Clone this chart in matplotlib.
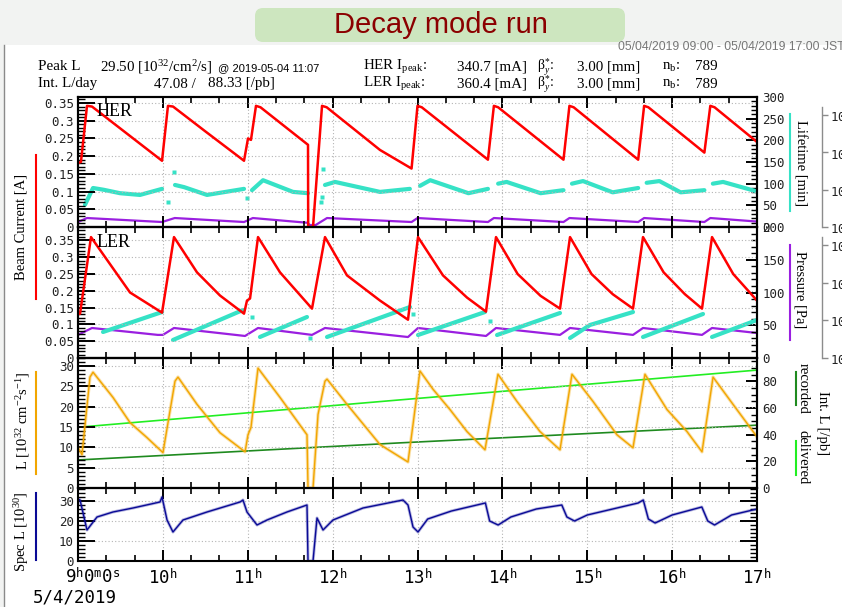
import matplotlib
matplotlib.use("Agg")
import matplotlib.pyplot as plt
import matplotlib.ticker as mticker
import matplotlib.transforms as mtransforms
from matplotlib.patches import FancyBboxPatch, Rectangle
from matplotlib.lines import Line2D

plt.rcParams["font.family"] = ["DejaVu Sans Mono"]
plt.rcParams["mathtext.fontset"] = "custom"
plt.rcParams["mathtext.rm"] = "Liberation Serif"
plt.rcParams["mathtext.it"] = "Liberation Serif:italic"
plt.rcParams["mathtext.tt"] = "DejaVu Sans Mono"
plt.rcParams["axes.linewidth"] = 1.5

SERIF = "Liberation Serif"
nan = float("nan")

# ---- time axis -------------------------------------------------------------
hour_ticks = [9, 10, 11, 12, 13, 14, 15, 16, 17]
hour_labels = [""] + [r"$\mathtt{%d}^{\mathtt{h}}$" % h for h in hour_ticks[1:]]

# ---- HER panel: beam current [A], lifetime [min], pressure [Pa] ------------
her_t = [9.0, 9.035, 9.106, 9.165, 9.58, 9.99, 10.06, 10.12, 10.5, 10.956,
         11.003, 11.038, 11.097, 11.15, 11.71, 11.712, 11.769, 11.875, 11.93,
         12.558, 12.93, 13.0, 13.05, 13.83, 13.9, 13.95, 14.72, 14.79, 14.84,
         15.6, 15.67, 15.72, 16.38, 16.45, 16.5, 17.0]
her_current = [0.180, 0.184, 0.342, 0.340, 0.263, 0.187, 0.342, 0.340, 0.270, 0.187,
               0.250, 0.246, 0.342, 0.338, 0.232, 0.0, 0.0, 0.342, 0.338,
               0.2175, 0.165, 0.342, 0.338, 0.190, 0.342, 0.338, 0.190, 0.342, 0.338,
               0.190, 0.342, 0.338, 0.210, 0.342, 0.338, 0.240]

her_life_t = [9.082, 9.177, 9.30, 9.495, 9.73, 9.99, nan,
              10.143, 10.25, 10.52, 10.956, nan,
              11.05, 11.18, 11.533, 11.71, nan,
              11.91, 12.028, 12.558, 12.91, nan,
              13.03, 13.15, 13.6, 13.83, nan,
              13.95, 14.05, 14.45, 14.72, nan,
              14.82, 14.95, 15.3, 15.6, nan,
              15.7, 15.85, 16.1, 16.38, nan,
              16.48, 16.6, 17.0]
her_life_min = [51, 90, 86, 78, 74, 88, nan,
                97, 92, 74, 88, nan,
                85, 108, 81, 78, nan,
                97, 104, 81, 88, nan,
                95, 108, 78, 88, nan,
                100, 104, 78, 85, nan,
                100, 106, 80, 90, nan,
                102, 106, 80, 85, nan,
                100, 104, 82]
her_life_pts_t = [10.06, 10.131, 10.99, 11.86, 11.87, 11.887]
her_life_pts_min = [58, 127, 67, 58, 69, 134]

her_press_t = [9.0, 9.106, 9.99, 10.14, 10.956, 11.06, 11.70, 11.733, 11.80,
               11.934, 12.93, 13.0, 13.83, 13.9, 14.72, 14.79, 15.6, 15.67,
               16.38, 16.45, 17.0]
her_press_pa = [1.36e-8, 1.74e-8, 1.36e-8, 1.74e-8, 1.36e-8, 1.74e-8, 1.3e-8, 1.13e-8, 1.13e-8,
                1.74e-8, 1.36e-8, 1.74e-8, 1.36e-8, 1.74e-8, 1.36e-8, 1.74e-8, 1.36e-8, 1.74e-8,
                1.36e-8, 1.74e-8, 1.4e-8]

# ---- LER panel --------------------------------------------------------------
ler_t = [9.0, 9.024, 9.153, 9.412, 9.613, 9.99, 10.131, 10.402, 10.673, 10.956,
         10.991, 11.027, 11.121, 11.38, 11.757, 11.91, 12.169, 12.558, 12.888,
         13.006, 13.3, 13.583, 13.807, 13.925, 14.18, 14.45, 14.679, 14.797,
         15.05, 15.3, 15.539, 15.657, 15.9, 16.15, 16.352, 16.47, 16.72, 17.0]
ler_current = [0.130, 0.132, 0.360, 0.267, 0.195, 0.135, 0.360, 0.255, 0.186, 0.132,
               0.171, 0.177, 0.360, 0.255, 0.147, 0.360, 0.246, 0.171, 0.114,
               0.360, 0.246, 0.180, 0.138, 0.360, 0.250, 0.185, 0.147, 0.360,
               0.250, 0.190, 0.147, 0.360, 0.255, 0.190, 0.147, 0.360, 0.250, 0.171]

ler_life_t = [9.295, 9.99, nan, 10.119, 10.944, nan, 11.144, 11.698, nan,
              11.934, 12.912, nan, 13.006, 13.795, nan, 13.937, 14.679, nan,
              14.797, 15.032, 15.539, nan, 15.657, 16.364, nan, 16.47, 17.0]
ler_life_min = [39.7, 70.2, nan, 27.5, 73.3, nan, 32.1, 62.6, nan,
                32.1, 77.9, nan, 35.1, 70.2, nan, 35.1, 68.7, nan,
                30.5, 50.4, 70.2, nan, 32.1, 67.2, nan, 32.1, 58.0]
ler_life_pts_t = [11.05, 11.733, 12.947, 13.854]
ler_life_pts_min = [62.6, 30.5, 67.2, 56.5]

ler_press_t = [9.0, 9.165, 9.94, 10.0, 10.131, 10.968, 11.121, 11.757, 11.91,
               12.888, 13.006, 13.807, 13.925, 14.679, 14.797, 15.539, 15.657,
               16.352, 16.47, 17.0]
ler_press_pa = [4.1e-8, 6.25e-8, 4.1e-8, 4.1e-8, 6.25e-8, 3.84e-8, 6.25e-8, 4.1e-8, 6.25e-8,
                3.6e-8, 6.25e-8, 3.84e-8, 6.25e-8, 4.1e-8, 6.25e-8, 4.1e-8, 6.25e-8,
                4.1e-8, 6.25e-8, 4.6e-8]

# ---- luminosity panel --------------------------------------------------------
lum_t = [9.0, 9.047, 9.141, 9.177, 9.412, 9.613, 9.813, 10.001, 10.143, 10.178,
         10.402, 10.673, 10.968, 11.003, 11.038, 11.121, 11.38, 11.698, 11.71,
         11.769, 11.828, 11.91, 11.934, 12.169, 12.558, 12.888, 12.947, 13.029,
         13.183, 13.383, 13.583, 13.795, 13.948, 14.172, 14.443, 14.679, 14.82,
         15.068, 15.35, 15.539, 15.68, 15.94, 16.175, 16.352, 16.482, 16.717, 17.0]
lum_value = [10.0, 8.2, 27.3, 28.5, 22.3, 16.1, 12.4, 8.7, 26.3, 27.3,
             20.6, 13.6, 8.9, 13.1, 14.9, 29.5, 22.3, 13.1, 0.0,
             0.0, 18.1, 26.3, 26.8, 20.6, 10.7, 6.4, 15.6, 28.8,
             24.3, 19.3, 13.9, 9.4, 28.0, 21.3, 13.9, 9.4, 28.0,
             21.3, 13.1, 9.9, 28.0, 19.3, 13.9, 8.9, 27.3, 20.6, 12.6]

intl_t = [9.0, 12.79, 17.0]
intl_delivered = [45.5, 66.0, 88.33]
intl_recorded = [21.0, 33.8, 47.08]

# ---- specific luminosity panel ---------------------------------------------
spec_t = [9.0, 9.024, 9.106, 9.224, 9.412, 9.648, 9.966, 9.99, 10.049, 10.119,
          10.237, 10.52, 10.909, 10.944, 10.991, 11.109, 11.227, 11.462, 11.698,
          11.71, 11.769, 11.816, 11.887, 12.004, 12.358, 12.829, 12.888, 12.947,
          13.006, 13.12, 13.4, 13.8, 13.85, 13.95, 14.1, 14.4, 14.7, 14.76,
          14.85, 15.0, 15.3, 15.6, 15.66, 15.72, 15.8, 16.0, 16.35, 16.42,
          16.5, 16.7, 17.0]
spec_value = [31.0, 30.5, 15.5, 22.0, 24.5, 26.5, 29.5, 32.0, 20.5, 14.5,
              20.5, 24.5, 29.5, 30.5, 24.5, 18.0, 20.5, 24.5, 28.0,
              0.0, 0.0, 21.5, 15.5, 20.5, 26.5, 30.5, 28.0, 17.0,
              14.5, 21.0, 25.0, 29.0, 20.0, 18.0, 22.0, 26.0, 28.0, 22.0,
              20.0, 23.0, 26.0, 29.0, 30.5, 21.0, 19.0, 23.0, 27.0, 20.0,
              18.0, 23.0, 26.0]

# ---- colours ----------------------------------------------------------------
RED = "#ff0000"
CYAN = "#36e2c6"
PURPLE = "#9a1fe0"
ORANGE = "#f2a600"
NAVY = "#0a0a96"
LIME = "#22ee22"
DKGREEN = "#1f8a1f"

W, H = 842, 607
X0, X1 = 78, 757


def fx(x):
    return x / W


def fy(y):
    return 1 - y / H


fig = plt.figure(figsize=(W / 100, H / 100), dpi=100, facecolor="#f2f3f2")

# white plotting sheet and its left border
fig.patches.append(Rectangle((4 / 100, 0), (W - 4) / 100, (H - 45) / 100,
                             transform=fig.dpi_scale_trans, facecolor="white",
                             edgecolor="none", zorder=-10))
fig.add_artist(Line2D([fx(4), fx(4)], [0, fy(45)], color="#8a8a8a", lw=1.0))

# title banner
fig.patches.append(FancyBboxPatch((2.55, (H - 42) / 100), 3.70, 0.34,
                                  boxstyle="round,pad=0,rounding_size=0.08",
                                  transform=fig.dpi_scale_trans,
                                  facecolor="#cde6bf", edgecolor="none", zorder=5))
fig.text(fx(441), fy(25), "Decay mode run", ha="center", va="center", fontsize=21,
         family="Liberation Sans", color="#8b0000", zorder=6)
fig.text(fx(618), fy(47), "05/04/2019 09:00 - 05/04/2019 17:00 JST", ha="left",
         va="center", fontsize=8.8, family="Liberation Sans", color="#777777")

# summary header
hdr = dict(va="center", fontsize=10.8, family=SERIF)
fig.text(fx(38), fy(67), "Peak L", **hdr)
fig.text(fx(100), fy(67), r"29.50 [10$^{32}$/cm$^{2}$/s]", **hdr)
fig.text(fx(218), fy(68), "@ 2019-05-04 11:07", va="center", fontsize=8,
         family="Liberation Sans")
fig.text(fx(38), fy(84), "Int. L/day", **hdr)
fig.text(fx(196), fy(84), "47.08 /", ha="right", **hdr)
fig.text(fx(208), fy(84), "88.33 [/pb]", **hdr)
for row_y, ring, ipeak in [(67, "HER", "340.7"), (84, "LER", "360.4")]:
    fig.text(fx(363), fy(row_y), ring + r" I$_{\rm peak}$:", **hdr)
    fig.text(fx(457), fy(row_y), ipeak + " [mA]", **hdr)
    fig.text(fx(537), fy(row_y), r"$\mathrm{\beta}_{y}^{*}$:", va="center",
             fontsize=9.8, family=SERIF)
    fig.text(fx(577), fy(row_y), "3.00 [mm]", **hdr)
    fig.text(fx(662), fy(row_y), r"n$_{\rm b}$:", **hdr)
    fig.text(fx(695), fy(row_y), "789", **hdr)


def make_panel(top, bottom):
    ax = fig.add_axes([fx(X0), fy(bottom), (X1 - X0) / W, (bottom - top) / H])
    ax.set_xlim(9, 17)
    ax.set_xticks(hour_ticks)
    ax.xaxis.set_minor_locator(mticker.MultipleLocator(1 / 3))
    ax.tick_params(axis="x", which="both", direction="in", top=True, bottom=True,
                   labelbottom=False)
    ax.tick_params(axis="x", which="major", length=8, width=1.4)
    ax.tick_params(axis="x", which="minor", length=4, width=1.2)
    ax.tick_params(axis="y", which="both", direction="in", right=False, labelsize=9,
                   labelcolor="#222222", pad=3)
    ax.tick_params(axis="y", which="major", length=12, width=1.4)
    ax.tick_params(axis="y", which="minor", length=5, width=1.0)
    ax.grid(True, which="major", color="#b4b4b4", ls=(0, (1, 2)), lw=0.8)
    ax.set_zorder(3)
    ax.patch.set_visible(False)
    ax.yaxis.set_major_formatter(mticker.FormatStrFormatter("%g"))
    return ax


def right_axis(ax, top, major, minor):
    tw = ax.twinx()
    tw.set_ylim(0, top)
    tw.yaxis.set_major_locator(mticker.MultipleLocator(major))
    tw.yaxis.set_minor_locator(mticker.MultipleLocator(minor))
    tw.tick_params(axis="y", which="both", direction="in", labelsize=9,
                   labelcolor="#222222", pad=4)
    tw.tick_params(axis="y", which="major", length=8, width=1.4)
    tw.tick_params(axis="y", which="minor", length=4, width=1.0)
    tw.set_zorder(1)
    return tw


def pressure_axis(ax, top_exp, spine_exp):
    pa = ax.twinx()
    pa.set_yscale("log")
    pa.set_ylim(1e-8, 10 ** top_exp)
    for side in ["left", "top", "bottom"]:
        pa.spines[side].set_visible(False)
    pa.spines["right"].set_position(("axes", (822 - X0) / (X1 - X0)))
    pa.spines["right"].set_bounds(1e-8, 10 ** spine_exp)
    pa.spines["right"].set_color("#8c8c8c")
    pa.spines["right"].set_linewidth(1.0)
    decades = [1e-8, 1e-7, 1e-6, 1e-5]
    pa.yaxis.set_major_locator(mticker.FixedLocator(decades))
    pa.yaxis.set_minor_locator(mticker.NullLocator())
    pa.set_yticklabels([r"$\mathtt{10}^{\mathtt{-%d}}$" % e for e in (8, 7, 6, 5)])
    pa.tick_params(axis="y", direction="out", length=4, width=1.0, color="#8c8c8c",
                   labelsize=9, labelcolor="#222222", pad=2)
    pa.set_zorder(0)
    return pa


# HER
ax1 = make_panel(97, 227)
ax1.set_ylim(0, 0.367)
ax1.yaxis.set_major_locator(mticker.MultipleLocator(0.05))
ax1.yaxis.set_minor_locator(mticker.MultipleLocator(0.01))
life1 = right_axis(ax1, 300, 50, 10)
pres1 = pressure_axis(ax1, -8 + 130 / 37.3, -8 + 120 / 37.3)
pres1.plot(her_press_t, her_press_pa, color=PURPLE, lw=1.6)
life1.plot(her_life_t, her_life_min, color=CYAN, lw=3.0, solid_capstyle="round")
life1.plot(her_life_pts_t, her_life_pts_min, ls="none", marker="s", ms=2.5,
           color=CYAN, mec="none")
ax1.plot(her_t, her_current, color=RED, lw=1.8)
ax1.text(0.027, 0.89, "HER", transform=ax1.transAxes, va="center", fontsize=13,
         family=SERIF)

# LER
ax2 = make_panel(227, 358)
ax2.set_ylim(0, 0.39)
ax2.yaxis.set_major_locator(mticker.MultipleLocator(0.05))
ax2.yaxis.set_minor_locator(mticker.MultipleLocator(0.01))
life2 = right_axis(ax2, 200, 50, 10)
pres2 = pressure_axis(ax2, -8 + 131 / 37.7, -8 + 121 / 37.7)
pres2.plot(ler_press_t, ler_press_pa, color=PURPLE, lw=1.6)
life2.plot(ler_life_t, ler_life_min, color=CYAN, lw=3.0, solid_capstyle="round")
life2.plot(ler_life_pts_t, ler_life_pts_min, ls="none", marker="s", ms=2.5,
           color=CYAN, mec="none")
ax2.plot(ler_t, ler_current, color=RED, lw=1.8)
ax2.text(0.028, 0.878, "LER", transform=ax2.transAxes, va="center", fontsize=13,
         family=SERIF)

# luminosity
ax3 = make_panel(358, 488)
ax3.set_ylim(0, 32)
ax3.yaxis.set_major_locator(mticker.MultipleLocator(5))
ax3.yaxis.set_minor_locator(mticker.MultipleLocator(1))
intl = right_axis(ax3, 97.4, 20, 5)
intl.plot(intl_t, intl_delivered, color=LIME, lw=1.2)
intl.plot(intl_t, intl_recorded, color=DKGREEN, lw=1.2)
ax3.plot(lum_t, lum_value, color=ORANGE, lw=2.4, alpha=0.35)
ax3.plot(lum_t, lum_value, color=ORANGE, lw=1.0)

# specific luminosity
ax4 = make_panel(488, 561)
ax4.set_ylim(0, 36.5)
ax4.yaxis.set_major_locator(mticker.MultipleLocator(10))
ax4.yaxis.set_minor_locator(mticker.MultipleLocator(2))
ax4.tick_params(axis="y", which="both", right=True)
ax4.plot(spec_t, spec_value, color=NAVY, lw=2.2, alpha=0.3)
ax4.plot(spec_t, spec_value, color=NAVY, lw=1.0)
ax4.set_xticklabels(hour_labels)
ax4.tick_params(axis="x", which="major", labelbottom=True, labelsize=12.5, pad=5)

# first time label is written out in full and starts left of its tick
start_tf = mtransforms.offset_copy(ax4.transAxes, fig=fig, x=-13, y=0, units="dots")
ax4.text(0, -0.22, r"$\mathtt{9}^{\mathtt{h}}\mathtt{0}^{\mathtt{m}}\mathtt{0}^{\mathtt{s}}$",
         transform=start_tf, ha="left", va="center", fontsize=12.5)
fig.text(fx(75), fy(598), "5/4/2019", ha="center", va="center", fontsize=12.5)

# axis titles with colour keys
lab = dict(family=SERIF, fontsize=10.5, ha="center", va="center")
fig.text(fx(21), fy(227), "Beam Current [A]", rotation=90, **lab)
fig.add_artist(Line2D([fx(36)] * 2, [fy(155), fy(299)], color=RED, lw=1.5))
fig.text(fx(23), fy(421), r"L [10$^{32}$ cm$^{-2}$s$^{-1}$]", rotation=90, **lab)
fig.add_artist(Line2D([fx(36)] * 2, [fy(372), fy(474)], color=ORANGE, lw=1.5))
fig.text(fx(22), fy(532), r"Spec L [10$^{30}$]", rotation=90, **lab)
fig.add_artist(Line2D([fx(36)] * 2, [fy(493), fy(560)], color=NAVY, lw=1.5))

fig.text(fx(800), fy(163), "Lifetime [min]", rotation=270, **lab)
fig.add_artist(Line2D([fx(790)] * 2, [fy(114), fy(211)], color=CYAN, lw=1.5))
fig.text(fx(800), fy(290), "Pressure [Pa]", rotation=270, **lab)
fig.add_artist(Line2D([fx(790)] * 2, [fy(245), fy(340)], color=PURPLE, lw=1.5))
fig.text(fx(822), fy(423), "Int. L [/pb]", rotation=270, **lab)
fig.text(fx(803), fy(388), "recorded", rotation=270, **lab)
fig.add_artist(Line2D([fx(796)] * 2, [fy(372), fy(405)], color=DKGREEN, lw=1.5))
fig.text(fx(803), fy(457), "delivered", rotation=270, **lab)
fig.add_artist(Line2D([fx(796)] * 2, [fy(441), fy(475)], color=LIME, lw=1.5))

fig.savefig("out.png", dpi=100, facecolor=fig.get_facecolor())
